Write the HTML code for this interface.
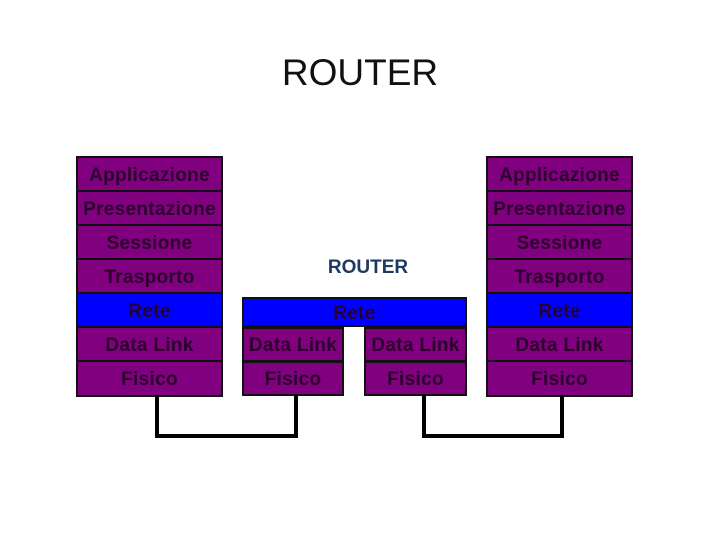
<!DOCTYPE html>
<html><head><style>
body{margin:0;width:720px;height:540px;background:#fff;position:relative;overflow:hidden;font-family:"Liberation Sans",sans-serif}
.b{position:absolute;background:#800080;border:2px solid #111;box-sizing:border-box;color:#2a002a;font-size:19px;font-weight:bold;letter-spacing:0.3px;text-align:center;white-space:nowrap;overflow:visible;display:flex;align-items:center;justify-content:center;padding-top:3px}
.r{background:#0000ff}
.l{position:absolute;background:#000}
</style></head><body>
<div style="position:absolute;left:0;width:720px;top:52px;text-align:center;font-size:37px;color:#111">ROUTER</div>
<div style="position:absolute;left:250px;width:236px;top:257px;text-align:center;font-size:19px;font-weight:bold;color:#1f3a60">ROUTER</div>

<div class="b" style="left:76px;top:156px;width:147px;height:36px">Applicazione</div>
<div class="b" style="left:76px;top:190px;width:147px;height:36px">Presentazione</div>
<div class="b" style="left:76px;top:224px;width:147px;height:36px">Sessione</div>
<div class="b" style="left:76px;top:258px;width:147px;height:36px">Trasporto</div>
<div class="b r" style="left:76px;top:292px;width:147px;height:36px">Rete</div>
<div class="b" style="left:76px;top:326px;width:147px;height:36px">Data Link</div>
<div class="b" style="left:76px;top:360px;width:147px;height:37px">Fisico</div>

<div class="b" style="left:486px;top:156px;width:147px;height:36px">Applicazione</div>
<div class="b" style="left:486px;top:190px;width:147px;height:36px">Presentazione</div>
<div class="b" style="left:486px;top:224px;width:147px;height:36px">Sessione</div>
<div class="b" style="left:486px;top:258px;width:147px;height:36px">Trasporto</div>
<div class="b r" style="left:486px;top:292px;width:147px;height:36px">Rete</div>
<div class="b" style="left:486px;top:326px;width:147px;height:36px">Data Link</div>
<div class="b" style="left:486px;top:360px;width:147px;height:37px">Fisico</div>

<div class="b r" style="left:242px;top:297px;width:225px;height:30px">Rete</div>
<div class="b" style="left:242px;top:327px;width:102px;height:35px">Data Link</div>
<div class="b" style="left:242px;top:361px;width:102px;height:35px">Fisico</div>
<div class="b" style="left:364px;top:327px;width:103px;height:35px">Data Link</div>
<div class="b" style="left:364px;top:361px;width:103px;height:35px">Fisico</div>

<div class="l" style="left:155px;top:395px;width:4px;height:43px"></div>
<div class="l" style="left:155px;top:434px;width:143px;height:4px"></div>
<div class="l" style="left:294px;top:395px;width:4px;height:43px"></div>
<div class="l" style="left:422px;top:395px;width:4px;height:43px"></div>
<div class="l" style="left:422px;top:434px;width:142px;height:4px"></div>
<div class="l" style="left:560px;top:395px;width:4px;height:43px"></div>
</body></html>
